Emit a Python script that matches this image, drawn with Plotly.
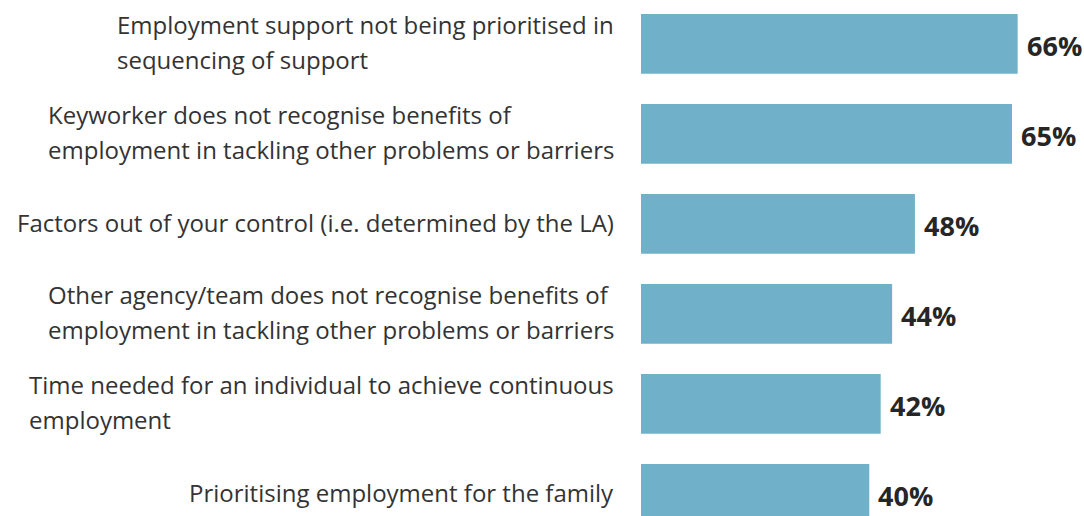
import plotly.graph_objects as go

# Survey barriers and share of respondents citing each
categories = [
    ["Employment support not being prioritised in", "sequencing of support"],
    ["Keyworker does not recognise benefits of", "employment in tackling other problems or barriers"],
    ["Factors out of your control (i.e. determined by the LA)"],
    ["Other agency/team does not recognise benefits of", "employment in tackling other problems or barriers"],
    ["Time needed for an individual to achieve continuous", "employment"],
    ["Prioritising employment for the family"],
]
values = [66, 65, 48, 44, 42, 40]

BAR_COLOR = "#70B0C8"
LABEL_COLOR = "#333333"
VALUE_COLOR = "#262626"
FONT = "Open Sans"

positions = list(range(len(values)))

fig = go.Figure(
    go.Bar(
        x=values,
        y=positions,
        orientation="h",
        marker=dict(color=BAR_COLOR, line=dict(width=0)),
        width=0.663,
        hoverinfo="skip",
    )
)

annotations = []
for pos, lines, v in zip(positions, categories, values):
    # category label: block right-aligned to the left of the bars, lines left-aligned
    text = "<br>".join(f'<span style="font-size:24px">{ln}</span>' for ln in lines)
    annotations.append(dict(
        x=0, y=pos, xref="x", yref="y",
        text=text, showarrow=False,
        xanchor="right", yanchor="middle", align="left",
        xshift=-25, yshift=2 if len(lines) > 1 else 1,
        font=dict(family=FONT, size=27, color=LABEL_COLOR),
    ))
    # value label just past the end of the bar
    annotations.append(dict(
        x=v, y=pos, xref="x", yref="y",
        text=f"<b>{v}%</b>", showarrow=False,
        xanchor="left", yanchor="middle",
        xshift=7, yshift=-2,
        font=dict(family=FONT, size=27, color=VALUE_COLOR),
    ))

fig.update_layout(
    width=1084,
    height=516,
    margin=dict(l=641, r=0, t=0, b=0),
    paper_bgcolor="white",
    plot_bgcolor="white",
    showlegend=False,
    annotations=annotations,
    xaxis=dict(range=[0, 443 / 5.707], visible=False, fixedrange=True),
    yaxis=dict(range=[5.246, -0.487], visible=False, fixedrange=True),
)

fig.write_html("out.html", config={"displayModeBar": False})
